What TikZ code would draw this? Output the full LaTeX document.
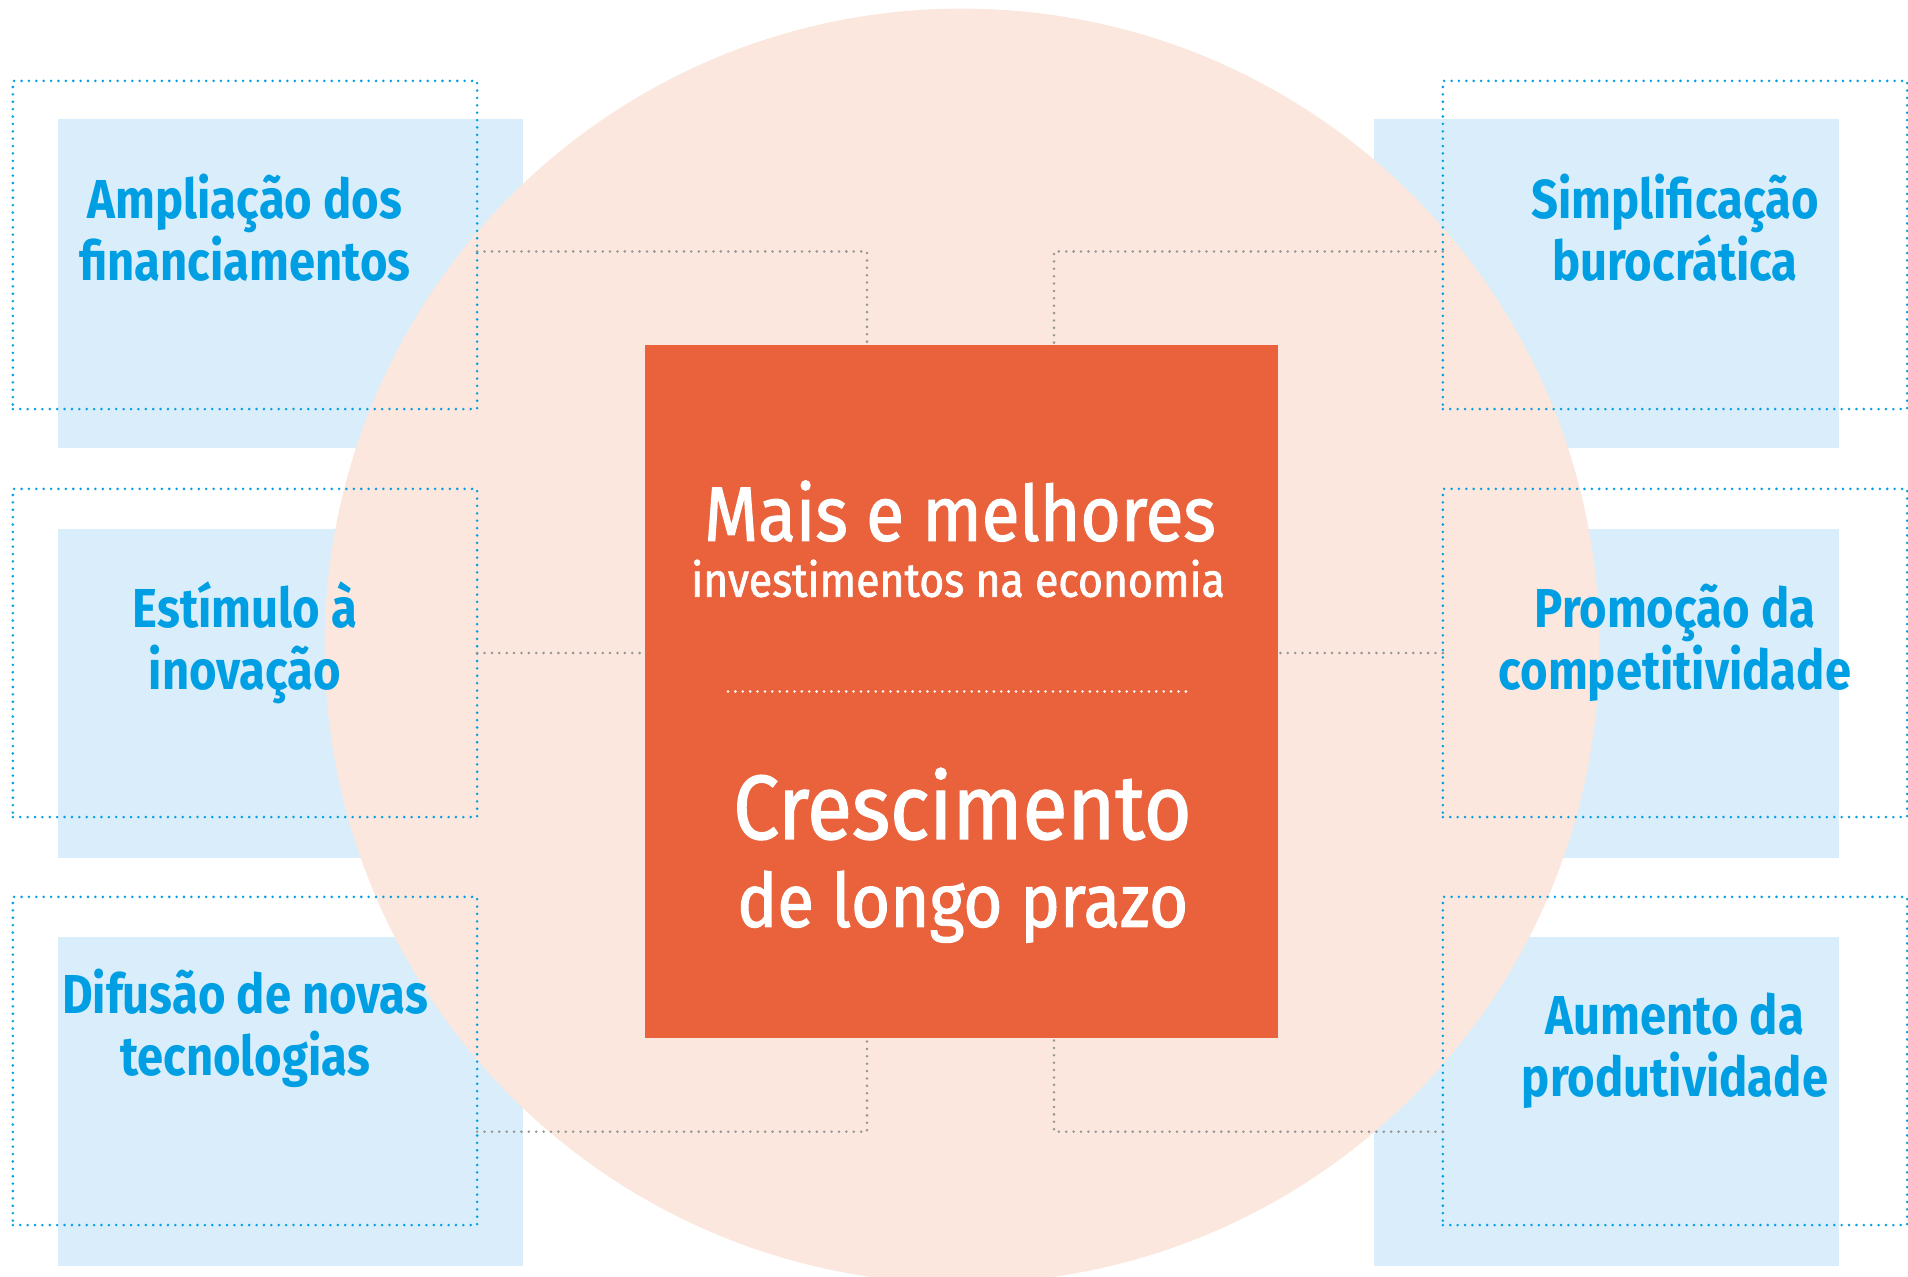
\documentclass[tikz,border=0pt]{standalone}
\usepackage{fontspec}
\setmainfont{Fira Sans}
\newfontfamily\labelfont{Fira Sans}[FakeStretch=0.86]
\newfontfamily\corefont{Fira Sans}[FakeStretch=0.9, FakeBold=1.5]
\usepackage{xcolor}
\usepackage{tikz}
\usetikzlibrary{positioning,calc}
\definecolor{xorange}{HTML}{E9623B}
\definecolor{xpeach}{HTML}{FBE7DD}
\definecolor{xsky}{HTML}{D9EEFA}
\definecolor{xcyan}{HTML}{009FE3}
\definecolor{xgray}{HTML}{959595}

\begin{document}
\begin{tikzpicture}[
    x=0.01cm, y=-0.01cm,
    dots/.style={line width=0.8pt, line cap=round, dash pattern=on 0pt off 2.1pt},
    pad/.style={rectangle, fill=xsky, minimum width=4.65cm, minimum height=3.29cm, inner sep=0pt, outer sep=0pt},
    dotframe/.style={rectangle, draw=xcyan, dots, minimum width=4.64cm, minimum height=3.28cm, inner sep=0pt, outer sep=0pt},
    topic/.style={font=\labelfont\bfseries\fontsize{15.6}{17.8}\selectfont, text=xcyan, align=center, anchor=base, inner sep=0pt},
    link/.style={draw=xgray, dots},
    core/.style={rectangle, fill=xorange, minimum width=6.33cm, minimum height=6.93cm, inner sep=0pt, outer sep=0pt},
    coretext/.style={text=white, anchor=base, inner sep=0pt, font=\corefont\fontsize{#1}{#1}\selectfont},
]
\useasboundingbox (0,0) rectangle (1908,1277);

% Pads
\node[pad] (padA) at (290.5,283.5) {};
\node[pad] (padB) at (290.5,693.5) {};
\node[pad] (padC) at (290.5,1101.5) {};
\node[pad] (padD) at (1606.5,283.5) {};
\node[pad] (padE) at (1606.5,693.5) {};
\node[pad] (padF) at (1606.5,1101.5) {};

% Circle
\node[circle, fill=xpeach, minimum size=12.74cm, inner sep=0pt] (halo) at (962,646) {};

% Frames
\node[dotframe] (frameA) at (245,245) {};
\node[dotframe] (frameB) at (245,653) {};
\node[dotframe] (frameC) at (245,1061) {};
\node[dotframe] (frameD) at (1675,245) {};
\node[dotframe] (frameE) at (1675,653) {};
\node[dotframe] (frameF) at (1675,1061) {};

% Core
\node[core] (core) at (961.5,691.5) {};

% Links
\draw[link] ($(frameA.east)+(0,6.5)$) -| ($(core.north)+(-94.5,0)$);
\draw[link] ($(frameD.west)+(0,6.5)$) -| ($(core.north)+(92.5,0)$);
\draw[link] (frameB.east) -- (frameB.east -| core.west);
\draw[link] (frameE.west) -- (frameE.west -| core.east);
\draw[link] ($(frameC.east)+(0,70.7)$) -| ($(core.south)+(-94.5,0)$);
\draw[link] ($(frameF.west)+(0,70.7)$) -| ($(core.south)+(92.5,0)$);

% Core texts
\node[coretext=21.9] (mais) at (960,540.7) {Mais e melhores};
\node[coretext=13.5] (invest) at (958,596.7) {investimentos na economia};
\draw[dots, draw=white] ($(core.center)+(-233.5,0)$) -- ($(core.center)+(231.5,0)$);
\node[coretext=25.9] (cresc) at (962.4,839) {Crescimento};
\node[coretext=21.2] (prazo) at (962.7,926.8) {de longo prazo};

% Topics
\node[topic] (tA) at (245,281) {Ampliação dos\\financiamentos};
\node[topic] (tB) at (245,690) {Estímulo à\\inovação};
\node[topic] (tC) at (245,1076) {Difusão de novas\\tecnologias};
\node[topic] (tD) at (1675,281) {Simplificação\\burocrática};
\node[topic] (tE) at (1675,690) {Promoção da\\competitividade};
\node[topic] (tF) at (1675,1097) {Aumento da\\produtividade};

\end{tikzpicture}
\end{document}
